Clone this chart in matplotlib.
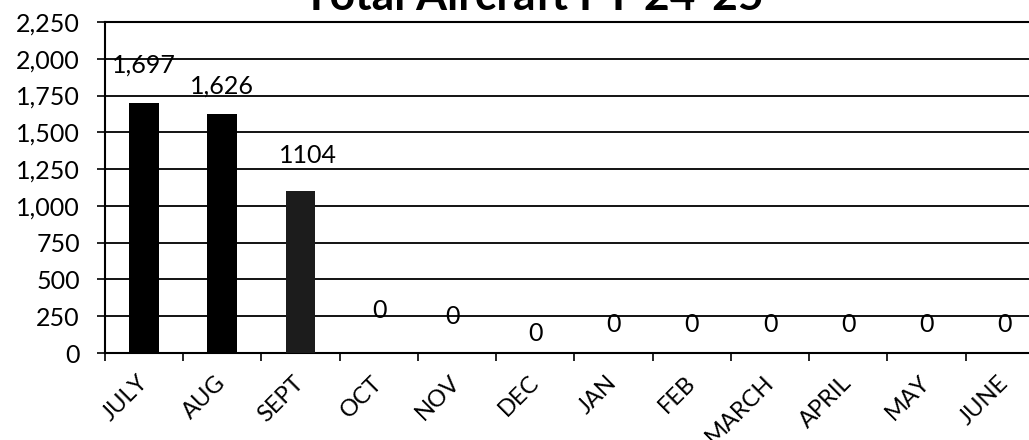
import numpy as np
import matplotlib.pyplot as plt
from matplotlib.ticker import StrMethodFormatter

plt.rcParams['font.family'] = ['Lato', 'DejaVu Sans']

# data
months = ['JULY', 'AUG', 'SEPT', 'OCT', 'NOV', 'DEC', 'JAN', 'FEB',
          'MARCH', 'APRIL', 'MAY', 'JUNE']
aircraft = [1697, 1626, 1104, 0, 0, 0, 0, 0, 0, 0, 0, 0]
label_text = ['1,697', '1,626', '1104', '0', '0', '0', '0', '0', '0', '0', '0', '0']

# where the data labels sit (they float above the bars in the original)
label_y = [1958, 1815, 1340, 292, 245, 136, 197, 197, 197, 197, 197, 197]
label_dx = [0, 0, 0.09, 0.01, -0.06, 0, 0, 0, 0, 0, 0, 0]

fig = plt.figure(figsize=(10.29, 4.40), dpi=100)
ax = fig.add_axes([0.1020, 0.1977, 0.9125, 0.7523])

x = np.arange(len(months))
bar_colors = ['black', 'black', '#1c1c1c'] + ['black'] * 9
ax.bar(x, aircraft, width=0.38, color=bar_colors, zorder=3)

for i, (t, y) in enumerate(zip(label_text, label_y)):
    ax.text(x[i] + label_dx[i], y, t, ha='center', va='center', fontsize=18, zorder=4)

ax.set_xlim(-0.5, 11.5)
ax.set_ylim(0, 2250)
ax.set_yticks(np.arange(0, 2251, 250))
ax.yaxis.set_major_formatter(StrMethodFormatter('{x:,.0f}'))
ax.yaxis.grid(True, color='black', lw=1.3, zorder=0)
ax.set_axisbelow(True)

# tick marks between categories, labels at the centers
ax.set_xticks(np.arange(-0.5, 12, 1))
ax.set_xticklabels([])
ax.set_xticks(x, minor=True)
ax.set_xticklabels(months, minor=True, rotation=45, ha='right', va='center',
                   rotation_mode='anchor', fontsize=17)
ax.tick_params(axis='x', which='major', direction='out', length=6, width=1.2)
ax.tick_params(axis='x', which='minor', length=0, pad=19)
ax.tick_params(axis='y', direction='out', length=6, width=1.2, pad=12, labelsize=18)

for s in ['left', 'bottom', 'top']:
    ax.spines[s].set_color('black')
    ax.spines[s].set_linewidth(1.5)
ax.spines['right'].set_visible(False)

fig.text(533 / 1029, 1 - 10 / 440, 'Total Aircraft FY 24-25', ha='center', va='baseline',
         fontsize=32, fontweight='bold')

fig.savefig('out.png', dpi=100)
